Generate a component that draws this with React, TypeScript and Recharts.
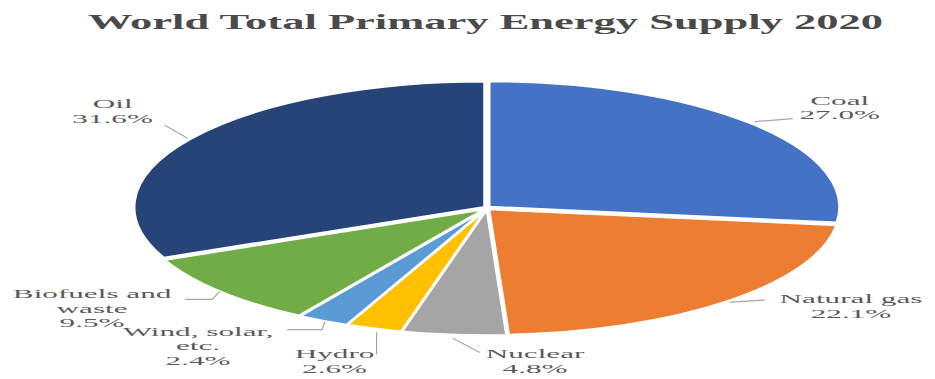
import { PieChart, Pie, Cell } from 'recharts';

const categories = ['Coal', 'Natural gas', 'Nuclear', 'Hydro', 'Wind, solar, etc.', 'Biofuels and waste', 'Oil'];
const shares = [27.0, 22.1, 4.8, 2.6, 2.4, 9.5, 31.6];
const labelText = [['Coal'], ['Natural gas'], ['Nuclear'], ['Hydro'], ['Wind, solar,', 'etc.'], ['Biofuels and', 'waste'], ['Oil']];
const colors = ['#4472C4', '#ED7D31', '#A5A5A5', '#FFC000', '#5B9BD5', '#70AD47', '#264478'];

const data = categories.map((name, i) => ({ name, value: shares[i] }));

// layout: label block (center x, first baseline) and leader line points, relative to the slice edge
const labelLayout = [
  { dx: 90, dy: -20, line: [[5, -3], [43, -6]] },
  { dx: 125, dy: 3, line: [[4, 2], [39, 0]] },
  { dx: 81, dy: 25, line: [[-1, 5], [26, 19]] },
  { dx: -40, dy: 31, line: [[2, 5], [2, 27]] },
  { dx: -126, dy: 16, line: [[1, 2], [-2, 10], [-37, 10]] },
  { dx: -130, dy: 8, line: [[-2, 1], [-10, 9], [-37, 9]] },
  { dx: -81, dy: -31, line: [[-6, -1], [-29, -14]] },
];

const STRETCH = 2.78;
const TEXT_SX = 2.6;
const LINE_H = 14.5;
const RAD = Math.PI / 180;

function renderSlice(props: any) {
  const { cx, cy, outerRadius, startAngle, endAngle, midAngle, index, value } = props;
  const rx = outerRadius * STRETCH;
  const ry = outerRadius;
  const ux = Math.cos(midAngle * RAD);
  const uy = -Math.sin(midAngle * RAD);
  const ox = cx + ux * 3;
  const oy = cy + uy * 1.5;
  const pt = (a: number) => [ox + rx * Math.cos(a * RAD), oy - ry * Math.sin(a * RAD)];
  const [x1, y1] = pt(startAngle);
  const [x2, y2] = pt(endAngle);
  const large = Math.abs(startAngle - endAngle) > 180 ? 1 : 0;
  const d = `M${ox},${oy} L${x1},${y1} A${rx},${ry} 0 ${large} 1 ${x2},${y2} Z`;

  const ex = cx + rx * ux;
  const ey = cy + ry * uy;
  const lay = labelLayout[index];
  const linePts = lay.line.map(([a, b]) => [ex + a, ey + b]);
  const lx = ex + lay.dx;
  const ly = ey + lay.dy;
  const lines = [...labelText[index], `${value.toFixed(1)}%`];

  return (
    <g>
      <path d={d} fill={colors[index]} stroke="#fff" strokeWidth={2.5} />
      <polyline points={linePts.map((p) => p.join(',')).join(' ')} fill="none" stroke="#A6A6A6" strokeWidth={1.2} />
      {lines.map((t, i) => (
        <g key={i} transform={`translate(${lx},${ly + i * LINE_H}) scale(${TEXT_SX},1)`}>
          <text x={0} y={0} textAnchor="middle" fontSize={12} fontFamily="'Liberation Serif', serif" fill="#595959">
            {t}
          </text>
        </g>
      ))}
    </g>
  );
}

export default function App() {
  return (
    <div style={{ position: 'absolute', left: 0, top: 0, width: 935, height: 379, background: '#fff' }}>
      <svg width={935} height={45} style={{ position: 'absolute', left: 0, top: 0 }}>
        <text x={88} y={29} fontSize={21} fontWeight="bold" fontFamily="'Liberation Serif', serif" fill="#4a4a4a" textLength={795} lengthAdjust="spacingAndGlyphs">
          World Total Primary Energy Supply 2020
        </text>
      </svg>
      <div style={{ position: 'absolute', left: 0, top: 0 }}>
        <PieChart width={935} height={379} margin={{ top: 0, right: 0, bottom: 0, left: 0 }}>
          <Pie
            data={data}
            dataKey="value"
            nameKey="name"
            cx={487}
            cy={208}
            outerRadius={126}
            startAngle={90}
            endAngle={-270}
            fill="none"
            stroke="none"
            label={renderSlice}
            labelLine={false}
            isAnimationActive={false}
          >
            {data.map((d) => (
              <Cell key={d.name} fill="none" stroke="none" />
            ))}
          </Pie>
        </PieChart>
      </div>
    </div>
  );
}
